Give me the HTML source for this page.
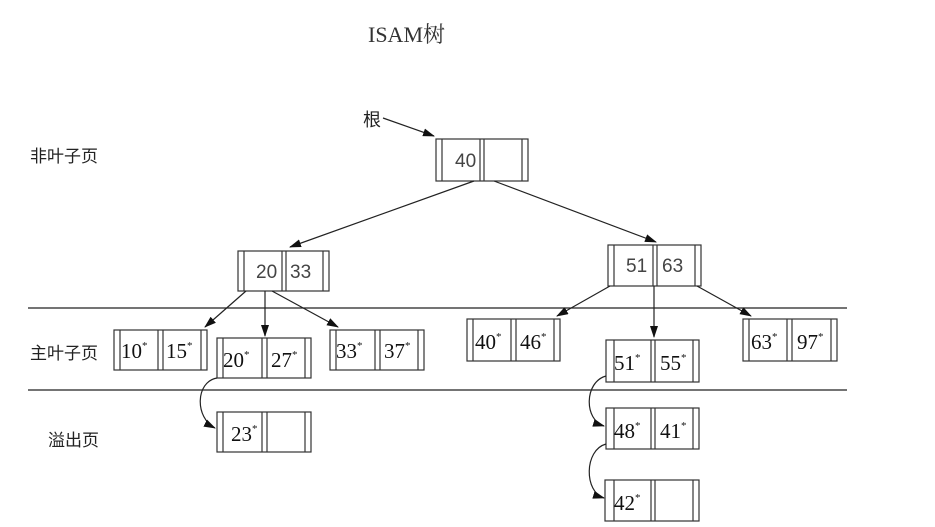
<!DOCTYPE html>
<html><head><meta charset="utf-8"><style>
html,body{margin:0;padding:0;background:#fff;}
svg{display:block}
.s{font-family:"Liberation Serif","Noto Serif CJK SC",serif;font-size:21px;fill:#111}
.a{font-family:"Liberation Sans",sans-serif;font-size:19px;fill:#444}
.c{font-family:"Liberation Sans","Noto Sans CJK SC",sans-serif;font-size:17px;fill:#222}
</style></head><body>
<svg width="935" height="527" viewBox="0 0 935 527" xmlns="http://www.w3.org/2000/svg">
<defs><marker id="ar" markerWidth="12" markerHeight="8" refX="11" refY="4" orient="auto" markerUnits="userSpaceOnUse"><path d="M0,0 L12,4 L0,8 z" fill="#111"/></marker></defs>
<g stroke="#222" stroke-width="1.3" fill="none">
<line x1="28" y1="308" x2="847" y2="308"/>
<line x1="28" y1="390" x2="847" y2="390"/>
</g>
<text x="368" y="42" style="font-size:22px;font-family:'Liberation Serif','Noto Serif CJK SC',serif;fill:#333">ISAM树</text>
<text x="363" y="126" class="c" style="font-size:18px">根</text>
<text x="30" y="162" class="c">非叶子页</text>
<text x="30" y="359" class="c">主叶子页</text>
<text x="48" y="446" class="c">溢出页</text>
<g stroke="#333" stroke-width="1.2" fill="none">
<g transform="translate(436,139)"><rect width="92" height="42"/><line x1="6" y1="0" x2="6" y2="42"/><line x1="44" y1="0" x2="44" y2="42"/><line x1="48" y1="0" x2="48" y2="42"/><line x1="86" y1="0" x2="86" y2="42"/></g>
<g transform="translate(238,251)"><rect width="91" height="40"/><line x1="6" y1="0" x2="6" y2="40"/><line x1="44" y1="0" x2="44" y2="40"/><line x1="48" y1="0" x2="48" y2="40"/><line x1="85" y1="0" x2="85" y2="40"/></g>
<g transform="translate(608,245)"><rect width="93" height="41"/><line x1="6" y1="0" x2="6" y2="41"/><line x1="45" y1="0" x2="45" y2="41"/><line x1="49" y1="0" x2="49" y2="41"/><line x1="87" y1="0" x2="87" y2="41"/></g>
<g transform="translate(114,330)"><rect width="93" height="40"/><line x1="6" y1="0" x2="6" y2="40"/><line x1="44" y1="0" x2="44" y2="40"/><line x1="49" y1="0" x2="49" y2="40"/><line x1="87" y1="0" x2="87" y2="40"/></g>
<g transform="translate(217,338)"><rect width="94" height="40"/><line x1="6" y1="0" x2="6" y2="40"/><line x1="45" y1="0" x2="45" y2="40"/><line x1="50" y1="0" x2="50" y2="40"/><line x1="88" y1="0" x2="88" y2="40"/></g>
<g transform="translate(330,330)"><rect width="94" height="40"/><line x1="6" y1="0" x2="6" y2="40"/><line x1="45" y1="0" x2="45" y2="40"/><line x1="50" y1="0" x2="50" y2="40"/><line x1="88" y1="0" x2="88" y2="40"/></g>
<g transform="translate(217,412)"><rect width="94" height="40"/><line x1="6" y1="0" x2="6" y2="40"/><line x1="45" y1="0" x2="45" y2="40"/><line x1="50" y1="0" x2="50" y2="40"/><line x1="88" y1="0" x2="88" y2="40"/></g>
<g transform="translate(467,319)"><rect width="93" height="42"/><line x1="6" y1="0" x2="6" y2="42"/><line x1="44" y1="0" x2="44" y2="42"/><line x1="49" y1="0" x2="49" y2="42"/><line x1="87" y1="0" x2="87" y2="42"/></g>
<g transform="translate(606,340)"><rect width="93" height="42"/><line x1="8" y1="0" x2="8" y2="42"/><line x1="45" y1="0" x2="45" y2="42"/><line x1="49" y1="0" x2="49" y2="42"/><line x1="87" y1="0" x2="87" y2="42"/></g>
<g transform="translate(743,319)"><rect width="94" height="42"/><line x1="6" y1="0" x2="6" y2="42"/><line x1="44" y1="0" x2="44" y2="42"/><line x1="49" y1="0" x2="49" y2="42"/><line x1="88" y1="0" x2="88" y2="42"/></g>
<g transform="translate(606,408)"><rect width="93" height="41"/><line x1="8" y1="0" x2="8" y2="41"/><line x1="45" y1="0" x2="45" y2="41"/><line x1="49" y1="0" x2="49" y2="41"/><line x1="87" y1="0" x2="87" y2="41"/></g>
<g transform="translate(605,480)"><rect width="94" height="41"/><line x1="9" y1="0" x2="9" y2="41"/><line x1="46" y1="0" x2="46" y2="41"/><line x1="50" y1="0" x2="50" y2="41"/><line x1="88" y1="0" x2="88" y2="41"/></g>
</g>
<g stroke="#222" stroke-width="1.2" fill="none" marker-end="url(#ar)">
<line x1="383" y1="118" x2="434" y2="136"/>
<line x1="474" y1="181" x2="290" y2="247"/>
<line x1="494" y1="181" x2="656" y2="242"/>
<line x1="246" y1="291" x2="205" y2="327"/>
<line x1="265" y1="291" x2="265" y2="336"/>
<line x1="272" y1="291" x2="338" y2="327"/>
<line x1="610" y1="286" x2="557" y2="316"/>
<line x1="654" y1="286" x2="654" y2="337"/>
<line x1="697" y1="286" x2="751" y2="316"/>
<path d="M217,378 C195,382 195,418 215,428"/>
<path d="M606,376 C584,382 584,420 604,426"/>
<path d="M606,444 C584,450 584,492 604,498"/>
</g>
<text x="455" y="167" class="a">40</text>
<text x="256" y="278" class="a">20</text><text x="290" y="278" class="a">33</text>
<text x="626" y="272" class="a">51</text><text x="662" y="272" class="a">63</text>
<g class="s">
<text x="121" y="358">10<tspan font-size="11" dy="-9">*</tspan></text><text x="166" y="358">15<tspan font-size="11" dy="-9">*</tspan></text>
<text x="223" y="367">20<tspan font-size="11" dy="-9">*</tspan></text><text x="271" y="367">27<tspan font-size="11" dy="-9">*</tspan></text>
<text x="336" y="358">33<tspan font-size="11" dy="-9">*</tspan></text><text x="384" y="358">37<tspan font-size="11" dy="-9">*</tspan></text>
<text x="231" y="441">23<tspan font-size="11" dy="-9">*</tspan></text>
<text x="475" y="349">40<tspan font-size="11" dy="-9">*</tspan></text><text x="520" y="349">46<tspan font-size="11" dy="-9">*</tspan></text>
<text x="614" y="370">51<tspan font-size="11" dy="-9">*</tspan></text><text x="660" y="370">55<tspan font-size="11" dy="-9">*</tspan></text>
<text x="751" y="349">63<tspan font-size="11" dy="-9">*</tspan></text><text x="797" y="349">97<tspan font-size="11" dy="-9">*</tspan></text>
<text x="614" y="438">48<tspan font-size="11" dy="-9">*</tspan></text><text x="660" y="438">41<tspan font-size="11" dy="-9">*</tspan></text>
<text x="614" y="510">42<tspan font-size="11" dy="-9">*</tspan></text>
</g>
</svg>
</body></html>
